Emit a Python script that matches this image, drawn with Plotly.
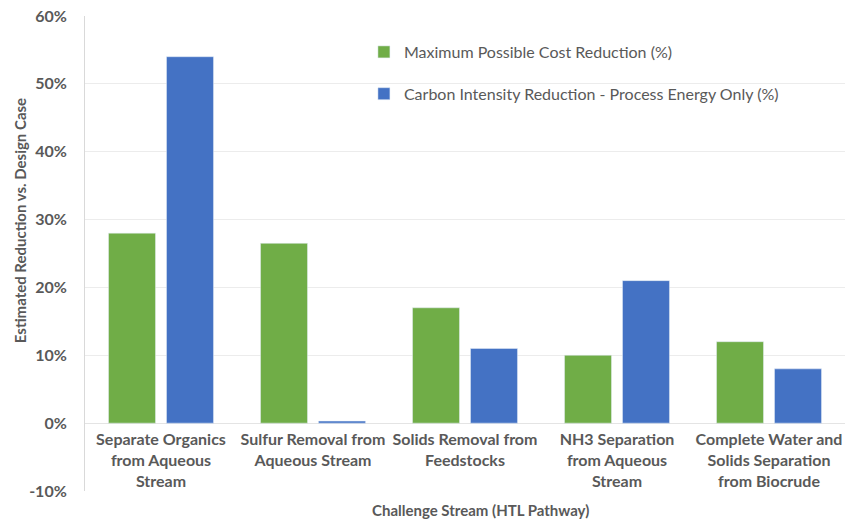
import plotly.graph_objects as go

categories = [
    "Separate Organics<br>from Aqueous<br>Stream",
    "Sulfur Removal from<br>Aqueous Stream",
    "Solids Removal from<br>Feedstocks",
    "NH3 Separation<br>from Aqueous<br>Stream",
    "Complete Water and<br>Solids Separation<br>from Biocrude",
]
cost_reduction = [28, 26.5, 17, 10, 12]
carbon_reduction = [54, 0.3, 11, 21, 8]
y_ticks = [-10, 0, 10, 20, 30, 40, 50, 60]
y_tick_labels = [f"{v}%" for v in y_ticks]

GREEN = "#70ad47"
BLUE = "#4472c4"
GRAY = "#595959"
FONT = "Lato"

fig = go.Figure()
fig.add_trace(go.Bar(x=categories, y=cost_reduction, name="Maximum Possible Cost Reduction (%)",
                     marker_color=GREEN, legendgroup="a"))
fig.add_trace(go.Bar(x=categories, y=carbon_reduction,
                     name="Carbon Intensity Reduction - Process Energy Only (%)",
                     marker_color=BLUE, legendgroup="b"))

ymin, ymax = -10, 60
fig.update_layout(
    width=845, height=522,
    margin=dict(l=85, r=0, t=16, b=31),
    paper_bgcolor="white", plot_bgcolor="white",
    barmode="group", bargap=0.237, bargroupgap=0.19,
    font=dict(family=FONT, color=GRAY),
    legend=dict(x=0.367, y=0.96, xanchor="left", yanchor="top",
                font=dict(size=16, color=GRAY, family=FONT),
                tracegroupgap=18, traceorder="grouped",
                bgcolor="rgba(0,0,0,0)", itemwidth=30),
    xaxis=dict(range=[-0.5, 4.5], anchor="free", position=(0 - ymin) / (ymax - ymin),
               showline=False, ticks="", showgrid=False, ticklabelstandoff=5,
               tickfont=dict(size=16, color=GRAY, family=FONT, weight="bold"),
               automargin=False),
    yaxis=dict(range=[ymin, ymax], tickvals=y_ticks, ticktext=y_tick_labels,
               showgrid=True, gridcolor="#ececec", gridwidth=1,
               zeroline=True, zerolinecolor="#e4e4e4", zerolinewidth=1,
               showline=True, linecolor="#d9d9d9", linewidth=1,
               ticks="", ticklabelstandoff=14,
               tickfont=dict(size=16, color=GRAY, family=FONT, weight="bold"),
               automargin=False),
)
fig.add_annotation(text="Estimated Reduction vs. Design Case", xref="paper", yref="paper",
                   x=0, xshift=-65, y=0.568, textangle=-90,
                   showarrow=False, xanchor="center", yanchor="middle",
                   font=dict(size=15, color=GRAY, family=FONT, weight="bold"))
fig.add_annotation(text="Challenge Stream (HTL Pathway)", xref="paper", yref="paper",
                   x=(481 - 85) / 760, y=0, yshift=-19, showarrow=False,
                   xanchor="center", yanchor="middle",
                   font=dict(size=15, color=GRAY, family=FONT, weight="bold"))
fig.write_html("out.html", config={"displayModeBar": False},
               post_script="document.body.style.margin='0';document.body.style.padding='0';")
